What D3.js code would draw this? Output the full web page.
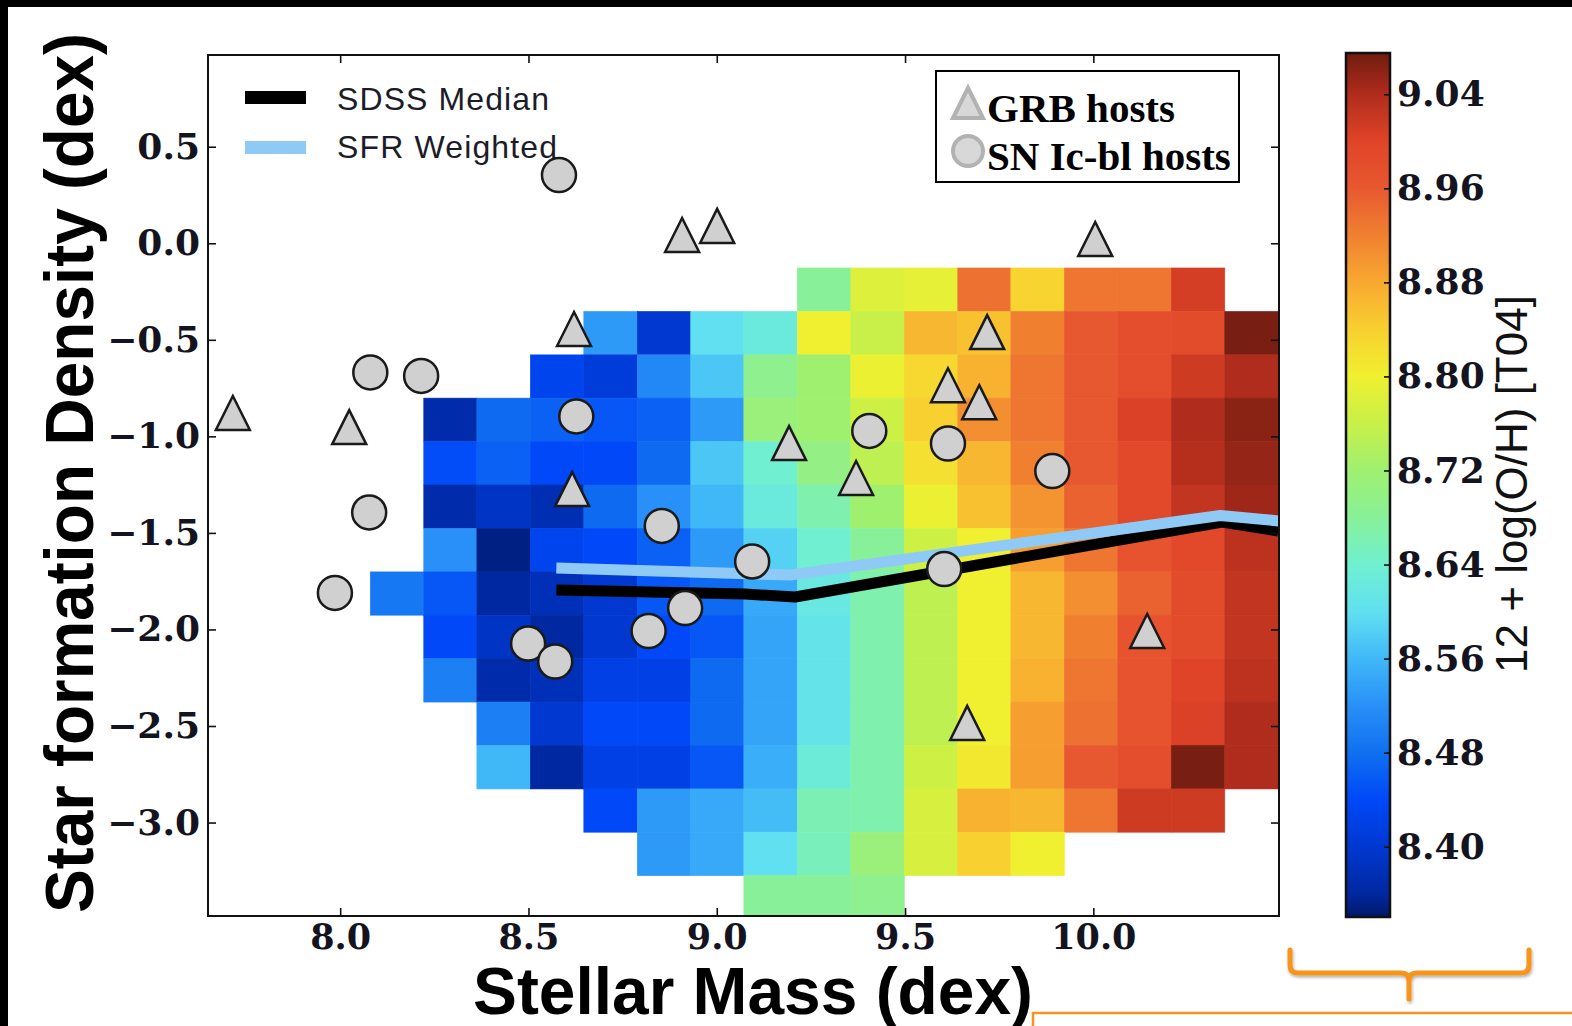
<!DOCTYPE html>
<html>
<head>
    <meta charset="utf-8">
    <title>Star formation density vs stellar mass</title>
    <script src="https://d3js.org/d3.v7.min.js"></script>
    <style>
        body { margin: 0; background: #fff; }
    </style>
</head>
<body>
    <div id="chart"></div>

    <script>
        // bin edges of the SDSS metallicity map
        const massEdges = [8.080, 8.222, 8.363, 8.505, 8.647, 8.789, 8.931, 9.072, 9.214,
                           9.356, 9.498, 9.640, 9.781, 9.923, 10.065, 10.207, 10.349, 10.491];
        // top to bottom
        const densityEdges = [-0.128, -0.353, -0.578, -0.802, -1.027, -1.252, -1.477, -1.702,
                              -1.926, -2.151, -2.376, -2.601, -2.826, -3.050, -3.275, -3.500];

        // 12 + log(O/H) per cell, rows from top, null = no galaxies
        const metallicityGrid = [
            [null, null, null, null, null, null, null, null, 8.68, 8.78, 8.79, 8.935, 8.835, 8.93, 8.93, 9.01, null],
            [null, null, null, null, 8.53, 8.40, 8.60, 8.625, 8.80, 8.76, 8.865, 8.855, 8.92, 8.96, 8.98, 8.985, 9.07],
            [null, null, null, 8.43, 8.41, 8.51, 8.575, 8.69, 8.72, 8.795, 8.83, 8.87, 8.93, 8.96, 8.98, 9.015, 9.04],
            [null, 8.37, 8.475, 8.465, 8.455, 8.465, 8.53, 8.71, 8.72, 8.765, 8.84, 8.905, 8.93, 8.96, 9.005, 9.04, 9.06],
            [null, 8.445, 8.465, 8.44, 8.44, 8.475, 8.575, 8.64, 8.70, 8.75, 8.82, 8.865, 8.92, 8.96, 8.99, 9.035, 9.055],
            [null, 8.37, 8.39, 8.375, 8.475, 8.52, 8.56, 8.625, 8.665, 8.72, 8.795, 8.855, 8.90, 8.95, 8.99, 9.025, 9.05],
            [null, 8.52, 8.35, 8.43, 8.44, 8.465, 8.53, 8.585, 8.64, 8.68, 8.765, 8.80, 8.89, 8.93, 8.97, 8.99, 9.03],
            [8.49, 8.455, 8.36, 8.38, 8.40, 8.455, 8.475, 8.545, 8.62, 8.665, 8.75, 8.80, 8.865, 8.905, 8.95, 8.985, 9.025],
            [null, 8.44, 8.39, 8.36, 8.40, 8.44, 8.455, 8.54, 8.61, 8.665, 8.75, 8.80, 8.865, 8.92, 8.97, 8.985, 9.025],
            [null, 8.50, 8.37, 8.38, 8.42, 8.42, 8.475, 8.54, 8.61, 8.665, 8.75, 8.80, 8.87, 8.93, 8.97, 9.00, 9.03],
            [null, null, 8.50, 8.40, 8.44, 8.44, 8.475, 8.54, 8.61, 8.665, 8.75, 8.80, 8.89, 8.935, 8.97, 9.005, 9.04],
            [null, null, 8.56, 8.36, 8.42, 8.42, 8.455, 8.55, 8.63, 8.665, 8.765, 8.81, 8.89, 8.96, 8.98, 9.07, 9.04],
            [null, null, null, null, 8.44, 8.53, 8.545, 8.565, 8.66, 8.665, 8.775, 8.87, 8.865, 8.93, 9.015, 9.015, null],
            [null, null, null, null, null, 8.53, 8.545, 8.60, 8.655, 8.71, 8.775, 8.84, 8.80, null, null, null, null],
            [null, null, null, null, null, null, null, 8.68, 8.68, 8.69, null, null, null, null, null, null, null]
        ];

        // median lines
        const sdssMass = [8.574, 9.075, 9.208, 10.342, 10.491];
        const sdssDensity = [-1.796, -1.817, -1.832, -1.444, -1.490];
        const sfrMass = [8.574, 9.195, 10.337, 10.493];
        const sfrDensity = [-1.682, -1.718, -1.410, -1.438];

        // host galaxies
        const grbMass = [7.715, 8.024, 8.621, 8.616, 8.908, 9.001, 9.192, 9.370, 9.718, 9.614, 9.697, 10.005, 10.143, 9.665];
        const grbDensity = [-0.879, -0.952, -0.444, -1.273, 0.043, 0.090, -1.035, -1.216, -0.460, -0.735, -0.823, 0.022, -2.008, -2.484];
        const snMass = [8.581, 8.080, 8.215, 8.627, 8.077, 7.986, 8.854, 9.094, 8.916, 8.819, 8.499, 8.571, 9.405, 9.614, 9.891, 9.604];
        const snDensity = [0.353, -0.669, -0.687, -0.897, -1.394, -1.811, -1.464, -1.648, -1.889, -2.008, -2.073, -2.166, -0.972, -1.037, -1.180, -1.687];

        // ticks
        const xTicks = [8.0, 8.5, 9.0, 9.5, 10.0];
        const yTicks = [0.5, 0.0, -0.5, -1.0, -1.5, -2.0, -2.5, -3.0];
        const cbTicks = [8.40, 8.48, 8.56, 8.64, 8.72, 8.80, 8.88, 8.96, 9.04];

        // colour map
        const cmapVals = [8.34, 8.36, 8.40, 8.44, 8.48, 8.52, 8.56, 8.60, 8.64, 8.68, 8.72,
                          8.76, 8.80, 8.84, 8.88, 8.92, 8.96, 9.00, 9.04, 9.075];
        const cmapCols = ["#001868", "#0028a0", "#0038d0", "#0048f8", "#1070f0", "#2890f8", "#40b8f8",
                          "#60e0f0", "#70f0d0", "#88f098", "#a0f070", "#c8f048", "#f0f030", "#f8d030",
                          "#f8a830", "#f08030", "#e85830", "#e04428", "#b02c1c", "#701c10"];

        const W = 1572, H = 1026;
        const L = 208, R = 1279, T = 55, B = 916;

        const svg = d3.select("#chart").append("svg")
            .attr("width", W)
            .attr("height", H);

        svg.append("rect").attr("width", W).attr("height", H).attr("fill", "#fff");

        const x = d3.scaleLinear().domain([7.649, 10.493]).range([L, R]);
        const y = d3.scaleLinear().domain([-3.484, 0.975]).range([B, T]);
        const color = d3.scaleLinear().domain(cmapVals).range(cmapCols).clamp(true);

        const defs = svg.append("defs");
        defs.append("clipPath").attr("id", "plotClip")
            .append("rect").attr("x", L).attr("y", T).attr("width", R - L).attr("height", B - T);

        // heat map
        const heat = svg.append("g").attr("clip-path", "url(#plotClip)");
        metallicityGrid.forEach(function(row, r) {
            row.forEach(function(v, c) {
                if (v === null) return;
                heat.append("rect")
                    .attr("x", x(massEdges[c]))
                    .attr("y", y(densityEdges[r]))
                    .attr("width", x(massEdges[c + 1]) - x(massEdges[c]))
                    .attr("height", y(densityEdges[r + 1]) - y(densityEdges[r]))
                    .attr("fill", color(v))
                    .attr("stroke", color(v))
                    .attr("stroke-width", 0.6);
            });
        });

        // median lines
        const line = d3.line().x(d => x(d[0])).y(d => y(d[1]));
        const lines = svg.append("g").attr("clip-path", "url(#plotClip)");
        lines.append("path")
            .attr("d", line(d3.zip(sdssMass, sdssDensity)))
            .attr("fill", "none").attr("stroke", "#000")
            .attr("stroke-width", 11).attr("stroke-linejoin", "round");
        lines.append("path")
            .attr("d", line(d3.zip(sfrMass, sfrDensity)))
            .attr("fill", "none").attr("stroke", "#8fcaf6")
            .attr("stroke-width", 11).attr("stroke-linejoin", "round");

        // legend for the lines
        const legend = svg.append("g")
            .style("font-family", "'Liberation Sans', Arial, sans-serif")
            .style("font-size", "32px")
            .attr("fill", "#1c1c28");
        legend.append("rect").attr("x", 245).attr("y", 91).attr("width", 61).attr("height", 13).attr("fill", "#000");
        legend.append("rect").attr("x", 245).attr("y", 141).attr("width", 61).attr("height", 13).attr("fill", "#8fcaf6");
        legend.append("text").attr("x", 337).attr("y", 110)
            .attr("textLength", 212).attr("lengthAdjust", "spacing").text("SDSS Median");
        legend.append("text").attr("x", 337).attr("y", 158)
            .attr("textLength", 220).attr("lengthAdjust", "spacing").text("SFR Weighted");

        // markers
        function triangle(s) {
            return "M0," + (-s) + "L" + s + "," + s + "L" + (-s) + "," + s + "Z";
        }
        const marks = svg.append("g");
        marks.selectAll(".grb")
            .data(d3.zip(grbMass, grbDensity))
            .enter().append("path")
            .attr("class", "grb")
            .attr("d", triangle(17))
            .attr("transform", d => "translate(" + x(d[0]) + "," + y(d[1]) + ")")
            .attr("fill", "#d0d0d0").attr("stroke", "#1a1a1a").attr("stroke-width", 2.5);
        marks.selectAll(".sn")
            .data(d3.zip(snMass, snDensity))
            .enter().append("circle")
            .attr("class", "sn")
            .attr("cx", d => x(d[0]))
            .attr("cy", d => y(d[1]))
            .attr("r", 17)
            .attr("fill", "#d0d0d0").attr("stroke", "#1a1a1a").attr("stroke-width", 2.5);

        // axes, ticks inside on all four sides
        const fmt1 = d3.format(".1f");
        function styleAxis(g, size) {
            g.select(".domain").remove();
            g.selectAll(".tick line").attr("stroke", "#111").attr("stroke-width", 1.6);
            g.selectAll(".tick text")
                .style("font-family", "'DejaVu Serif', serif")
                .style("font-weight", "bold")
                .style("font-size", size + "px")
                .attr("fill", "#141420");
        }
        svg.append("g").attr("transform", "translate(0," + B + ")")
            .call(d3.axisBottom(x).tickValues(xTicks).tickFormat(fmt1).tickSize(-8).tickPadding(8))
            .call(g => styleAxis(g, 35));
        svg.append("g").attr("transform", "translate(" + L + ",0)")
            .call(d3.axisLeft(y).tickValues(yTicks).tickFormat(fmt1).tickSize(-8).tickPadding(8))
            .call(g => styleAxis(g, 36));
        svg.append("g").attr("transform", "translate(0," + T + ")")
            .call(d3.axisTop(x).tickValues(xTicks).tickFormat("").tickSize(-8))
            .call(g => styleAxis(g, 36));
        svg.append("g").attr("transform", "translate(" + R + ",0)")
            .call(d3.axisRight(y).tickValues(yTicks).tickFormat("").tickSize(-8))
            .call(g => styleAxis(g, 36));

        svg.append("rect")
            .attr("x", L).attr("y", T).attr("width", R - L).attr("height", B - T)
            .attr("fill", "none").attr("stroke", "#111").attr("stroke-width", 2);

        // host legend box
        const hostLegend = svg.append("g");
        hostLegend.append("rect")
            .attr("x", 936).attr("y", 71).attr("width", 303).attr("height", 111)
            .attr("fill", "#fff").attr("stroke", "#000").attr("stroke-width", 2);
        hostLegend.append("path")
            .attr("d", triangle(15)).attr("transform", "translate(968,103)")
            .attr("fill", "#d8d8d8").attr("stroke", "#b2b2b2").attr("stroke-width", 4);
        hostLegend.append("circle")
            .attr("cx", 968).attr("cy", 151).attr("r", 15)
            .attr("fill", "#d8d8d8").attr("stroke", "#b2b2b2").attr("stroke-width", 4);
        hostLegend.selectAll("text")
            .data(["GRB hosts", "SN Ic-bl hosts"])
            .enter().append("text")
            .attr("x", 987)
            .attr("y", (d, i) => 122 + i * 48)
            .style("font-family", "'Liberation Serif', 'Times New Roman', serif")
            .style("font-weight", "bold")
            .style("font-size", "41px")
            .attr("fill", "#000")
            .text(d => d);

        // colour bar
        const cb = d3.scaleLinear().domain([8.3402, 9.0751]).range([917, 53]);
        const grad = defs.append("linearGradient").attr("id", "cbGrad")
            .attr("x1", 0).attr("y1", 1).attr("x2", 0).attr("y2", 0);
        cmapVals.forEach(function(v, i) {
            grad.append("stop")
                .attr("offset", Math.max(0, Math.min(1, (v - 8.3402) / (9.0751 - 8.3402))))
                .attr("stop-color", cmapCols[i]);
        });
        svg.append("rect")
            .attr("x", 1346).attr("y", 53).attr("width", 44).attr("height", 864)
            .attr("fill", "url(#cbGrad)");
        svg.append("g").attr("transform", "translate(1390,0)")
            .call(d3.axisRight(cb).tickValues(cbTicks).tickFormat(d3.format(".2f")).tickSize(-6).tickPadding(7))
            .call(g => styleAxis(g, 36));
        svg.append("rect")
            .attr("x", 1346).attr("y", 53).attr("width", 44).attr("height", 864)
            .attr("fill", "none").attr("stroke", "#111").attr("stroke-width", 2.5);
        svg.append("text")
            .attr("transform", "translate(1527,484) rotate(-90)")
            .attr("text-anchor", "middle")
            .style("font-family", "'Liberation Sans', Arial, sans-serif")
            .style("font-size", "44px")
            .attr("fill", "#111")
            .text("12 + log(O/H) [T04]");

        // axis titles
        svg.append("text")
            .attr("x", 753).attr("y", 1014)
            .attr("text-anchor", "middle")
            .attr("textLength", 560).attr("lengthAdjust", "spacingAndGlyphs")
            .style("font-family", "'Liberation Sans', Arial, sans-serif")
            .style("font-weight", "bold").style("font-size", "66px")
            .attr("fill", "#000")
            .text("Stellar Mass (dex)");
        svg.append("text")
            .attr("transform", "translate(93,473) rotate(-90)")
            .attr("text-anchor", "middle")
            .attr("textLength", 880).attr("lengthAdjust", "spacingAndGlyphs")
            .style("font-family", "'Liberation Sans', Arial, sans-serif")
            .style("font-weight", "bold").style("font-size", "68px")
            .attr("fill", "#000")
            .text("Star formation Density (dex)");

        // orange annotation bracket and rule
        const shadow = defs.append("filter").attr("id", "shadow")
            .attr("x", -0.1).attr("y", -0.3).attr("width", 1.2).attr("height", 1.8);
        shadow.append("feDropShadow").attr("dx", 1).attr("dy", 2).attr("stdDeviation", 1.5)
            .attr("flood-color", "#000").attr("flood-opacity", 0.3);
        svg.append("path")
            .attr("d", "M1290,950 L1290,965 Q1290,973 1298,973 L1401,973 Q1409,973 1409,981 L1409,999" +
                       " M1409,981 Q1409,973 1417,973 L1521,973 Q1529,973 1529,965 L1529,950")
            .attr("fill", "none").attr("stroke", "#f7941d").attr("stroke-width", 5)
            .attr("stroke-linecap", "round").attr("filter", "url(#shadow)");
        svg.append("path")
            .attr("d", "M1033,1026 L1033,1013 L1572,1013")
            .attr("fill", "none").attr("stroke", "#f7941d").attr("stroke-width", 2.5);

        // black edge of the slide
        svg.append("rect").attr("x", 0).attr("y", 0).attr("width", W).attr("height", 7).attr("fill", "#000");
        svg.append("rect").attr("x", 0).attr("y", 0).attr("width", 8).attr("height", H).attr("fill", "#000");
    </script>
</body>
</html>
